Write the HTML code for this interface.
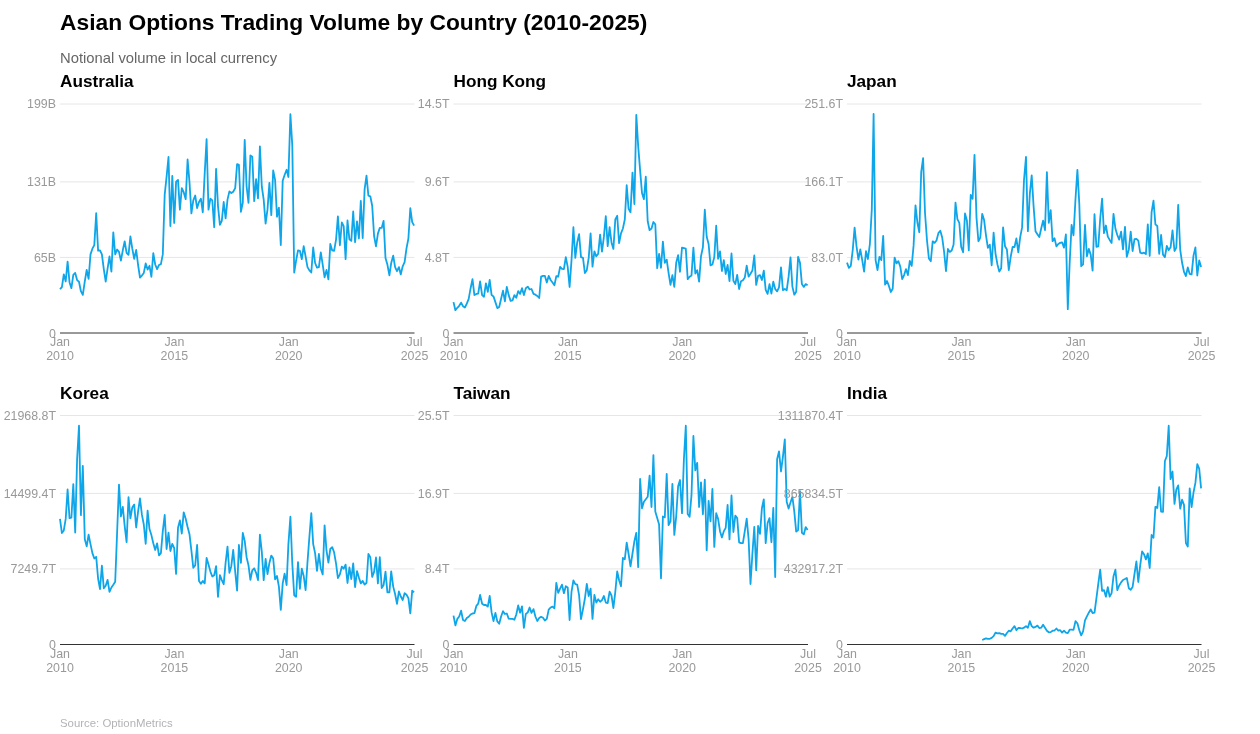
<!DOCTYPE html><html><head><meta charset="utf-8"><title>Asian Options Trading Volume</title><style>
html,body{margin:0;padding:0;background:#fff}body{width:1260px;height:734px;overflow:hidden;font-family:"Liberation Sans",sans-serif}
svg{display:block;will-change:transform;opacity:.999}text{font-family:"Liberation Sans",sans-serif}
.t{font-size:22.8px;font-weight:700;fill:#000}.s{font-size:14.8px;fill:#666}.p{font-size:17.2px;font-weight:700;fill:#000}
.a{font-size:12.4px;fill:#999}.g{stroke:#e6e6e6;stroke-width:1}.x{stroke:#333;stroke-width:1}.l{fill:none;stroke:#0ea5e9;stroke-width:1.8;stroke-linejoin:round;stroke-linecap:butt}
.src{font-size:11.4px;fill:#b3b3b3}
</style></head><body>
<svg width="1260" height="734" viewBox="0 0 1260 734">
<text class="t" x="60" y="30">Asian Options Trading Volume by Country (2010-2025)</text>
<text class="s" x="60" y="63">Notional volume in local currency</text>
<g><text class="p" x="60" y="87">Australia</text>
<line class="g" x1="60" x2="414.5" y1="104.0" y2="104.0"/>
<text class="a" text-anchor="end" x="56" y="108.3">199B</text>
<line class="g" x1="60" x2="414.5" y1="181.9" y2="181.9"/>
<text class="a" text-anchor="end" x="56" y="186.2">131B</text>
<line class="g" x1="60" x2="414.5" y1="257.4" y2="257.4"/>
<text class="a" text-anchor="end" x="56" y="261.7">65B</text>
<text class="a" text-anchor="end" x="56" y="337.5">0</text>
<path class="l" d="M60.0,289.2 L61.9,287.1 L63.8,274.3 L65.7,281.4 L67.6,261.7 L69.5,282.2 L71.4,288.2 L73.3,274.8 L75.2,272.9 L77.1,280.1 L79.0,281.7 L80.9,291.2 L82.8,294.9 L84.8,281.4 L86.7,269.9 L88.6,278.9 L90.5,254.4 L92.4,248.7 L94.3,245.1 L96.2,213.2 L98.1,250.6 L100.0,250.3 L101.9,254.4 L103.8,269.1 L105.7,281.7 L107.6,268.3 L109.5,256.5 L111.4,271.6 L113.3,232.3 L115.2,254.4 L117.1,249.5 L119.0,251.9 L120.9,260.6 L122.8,250.3 L124.7,241.3 L126.6,252.8 L128.5,254.9 L130.4,236.4 L132.3,248.7 L134.2,258.8 L136.2,250.0 L138.1,265.0 L140.0,277.6 L141.9,275.6 L143.8,272.9 L145.7,263.4 L147.6,269.6 L149.5,265.8 L151.4,276.8 L153.3,253.1 L155.2,264.5 L157.1,269.1 L159.0,265.0 L160.9,264.2 L162.8,254.4 L164.7,194.6 L166.6,176.7 L168.5,157.0 L170.4,226.0 L172.3,175.8 L174.2,222.9 L176.1,181.6 L178.0,179.9 L179.9,209.7 L181.8,188.1 L183.7,192.2 L185.7,199.2 L187.6,159.5 L189.5,182.4 L191.4,213.4 L193.3,200.4 L195.2,195.5 L197.1,208.1 L199.0,202.0 L200.9,198.7 L202.8,212.3 L204.7,173.4 L206.6,139.1 L208.5,209.7 L210.4,198.7 L212.3,200.4 L214.2,227.3 L216.1,168.8 L218.0,206.1 L219.9,224.9 L221.8,220.8 L223.7,202.0 L225.6,218.3 L227.5,199.6 L229.4,191.4 L231.3,193.0 L233.2,191.7 L235.2,188.1 L237.1,164.1 L238.9,164.9 L240.9,211.8 L242.8,202.8 L244.7,139.9 L246.6,186.5 L248.5,202.8 L250.4,155.4 L252.3,156.7 L254.2,201.2 L256.1,179.1 L258.0,198.4 L259.9,146.4 L261.8,186.5 L263.7,199.6 L265.6,223.7 L267.5,209.4 L269.4,182.9 L271.3,215.1 L273.2,170.4 L275.1,179.9 L277.0,216.7 L278.9,207.7 L280.8,245.0 L282.7,180.8 L284.6,175.0 L286.6,169.8 L288.4,177.0 L290.4,114.2 L292.3,145.6 L294.2,272.5 L296.1,260.6 L298.0,250.4 L299.9,250.8 L301.8,259.2 L303.7,246.2 L305.6,256.5 L307.5,267.1 L309.4,270.4 L311.3,272.5 L313.2,247.5 L315.1,263.0 L317.0,267.6 L318.9,267.1 L320.8,252.4 L322.7,264.6 L324.6,277.4 L326.5,269.9 L328.4,279.4 L330.3,243.9 L332.2,250.4 L334.1,250.8 L336.1,239.3 L337.9,216.4 L339.9,245.3 L341.8,222.5 L343.7,226.2 L345.6,259.2 L347.5,220.5 L349.4,239.3 L351.3,240.9 L353.2,211.5 L355.1,242.2 L357.0,221.3 L358.9,238.5 L360.8,200.9 L362.7,238.0 L364.6,189.4 L366.5,175.6 L368.4,195.7 L370.3,196.3 L372.2,205.8 L374.1,236.0 L376.0,246.3 L377.9,233.6 L379.8,227.9 L381.7,227.9 L383.6,220.8 L385.5,258.1 L387.4,264.6 L389.4,275.3 L391.2,263.0 L393.2,255.7 L395.1,267.1 L397.0,271.2 L398.9,267.1 L400.8,274.4 L402.7,266.3 L404.6,262.2 L406.5,248.3 L408.4,238.5 L410.3,208.2 L412.2,222.1 L414.1,225.7"/>
<line class="x" x1="60" x2="414.5" y1="333" y2="333"/>
<text class="a" text-anchor="middle" x="60.0" y="346.2">Jan</text><text class="a" text-anchor="middle" x="60.0" y="360">2010</text>
<text class="a" text-anchor="middle" x="174.4" y="346.2">Jan</text><text class="a" text-anchor="middle" x="174.4" y="360">2015</text>
<text class="a" text-anchor="middle" x="288.7" y="346.2">Jan</text><text class="a" text-anchor="middle" x="288.7" y="360">2020</text>
<text class="a" text-anchor="middle" x="414.5" y="346.2">Jul</text><text class="a" text-anchor="middle" x="414.5" y="360">2025</text>
</g>
<g><text class="p" x="453.5" y="87">Hong Kong</text>
<line class="g" x1="453.5" x2="808.0" y1="104.0" y2="104.0"/>
<text class="a" text-anchor="end" x="449.5" y="108.3">14.5T</text>
<line class="g" x1="453.5" x2="808.0" y1="181.9" y2="181.9"/>
<text class="a" text-anchor="end" x="449.5" y="186.2">9.6T</text>
<line class="g" x1="453.5" x2="808.0" y1="257.4" y2="257.4"/>
<text class="a" text-anchor="end" x="449.5" y="261.7">4.8T</text>
<text class="a" text-anchor="end" x="449.5" y="337.5">0</text>
<path class="l" d="M453.5,302.1 L455.4,310.2 L457.3,307.8 L459.2,305.8 L461.1,302.6 L463.0,306.2 L464.9,307.5 L466.8,303.7 L468.7,298.8 L470.6,288.2 L472.5,279.2 L474.4,295.1 L476.4,293.9 L478.2,293.6 L480.1,281.3 L482.1,295.1 L484.0,296.7 L485.9,283.3 L487.8,291.8 L489.7,280.0 L491.6,295.1 L493.5,296.4 L495.4,302.1 L497.3,308.1 L499.2,307.0 L501.1,298.8 L503.0,290.6 L504.9,301.3 L506.8,286.9 L508.7,295.1 L510.6,300.9 L512.5,300.4 L514.4,295.1 L516.3,297.7 L518.2,291.1 L520.1,293.9 L522.0,288.2 L523.9,295.1 L525.8,288.2 L527.8,286.6 L529.6,289.5 L531.5,289.0 L533.5,293.9 L535.4,294.7 L537.3,296.0 L539.2,298.0 L541.1,276.7 L543.0,275.9 L544.9,275.9 L546.8,282.5 L548.7,275.9 L550.6,280.0 L552.5,282.5 L554.4,285.2 L556.3,276.2 L558.2,276.7 L560.1,266.9 L562.0,268.9 L563.9,269.1 L565.8,257.1 L567.7,266.9 L569.6,287.0 L571.5,260.4 L573.4,227.2 L575.3,257.9 L577.2,242.4 L579.1,234.2 L581.0,257.1 L583.0,257.9 L584.9,273.1 L586.8,270.2 L588.7,257.9 L590.6,233.4 L592.5,266.6 L594.4,251.4 L596.3,256.3 L598.2,253.8 L600.1,234.7 L602.0,251.7 L603.9,236.7 L605.8,216.2 L607.7,246.2 L609.6,227.2 L611.5,242.4 L613.4,248.9 L615.3,219.5 L617.2,215.8 L619.1,243.2 L621.0,233.4 L622.9,228.5 L624.8,219.5 L626.7,185.2 L628.6,208.9 L630.5,212.2 L632.5,172.6 L634.4,204.0 L636.3,114.9 L638.2,146.4 L640.1,170.1 L642.0,193.0 L643.9,199.2 L645.8,176.7 L647.7,221.2 L649.6,230.2 L651.5,228.5 L653.4,222.0 L655.3,224.4 L657.2,268.2 L659.1,253.8 L661.0,267.8 L662.9,241.6 L664.8,262.8 L666.7,259.6 L668.6,273.1 L670.5,284.9 L672.4,275.1 L674.3,286.9 L676.2,262.8 L678.1,255.2 L680.0,271.8 L682.0,247.6 L683.9,248.1 L685.8,248.6 L687.7,279.2 L689.6,276.7 L691.5,275.4 L693.4,247.6 L695.3,273.5 L697.2,270.2 L699.1,281.6 L701.0,256.3 L702.9,247.3 L704.8,209.7 L706.7,236.7 L708.6,244.0 L710.5,265.3 L712.4,264.5 L714.3,257.1 L716.2,225.7 L718.1,258.8 L720.0,251.4 L721.9,271.0 L723.8,260.1 L725.7,274.0 L727.6,265.0 L729.5,281.1 L731.5,253.5 L733.4,280.8 L735.3,284.1 L737.2,274.8 L739.1,289.0 L741.0,281.3 L742.9,280.3 L744.8,277.6 L746.7,265.6 L748.6,276.7 L750.5,273.8 L752.4,270.5 L754.3,255.5 L756.2,284.9 L758.1,275.9 L760.0,275.1 L761.9,280.0 L763.8,270.7 L765.7,289.8 L767.6,293.9 L769.5,284.1 L771.4,293.6 L773.3,281.6 L775.2,289.0 L777.1,291.4 L779.0,287.4 L781.0,267.3 L782.9,290.1 L784.8,289.0 L786.7,290.3 L788.6,276.7 L790.5,257.4 L792.4,286.6 L794.3,294.7 L796.2,291.8 L798.1,256.8 L800.0,262.8 L801.9,284.1 L803.8,286.9 L805.7,284.1 L807.6,285.2"/>
<line class="x" x1="453.5" x2="808.0" y1="333" y2="333"/>
<text class="a" text-anchor="middle" x="453.5" y="346.2">Jan</text><text class="a" text-anchor="middle" x="453.5" y="360">2010</text>
<text class="a" text-anchor="middle" x="567.9" y="346.2">Jan</text><text class="a" text-anchor="middle" x="567.9" y="360">2015</text>
<text class="a" text-anchor="middle" x="682.2" y="346.2">Jan</text><text class="a" text-anchor="middle" x="682.2" y="360">2020</text>
<text class="a" text-anchor="middle" x="808.0" y="346.2">Jul</text><text class="a" text-anchor="middle" x="808.0" y="360">2025</text>
</g>
<g><text class="p" x="847" y="87">Japan</text>
<line class="g" x1="847" x2="1201.5" y1="104.0" y2="104.0"/>
<text class="a" text-anchor="end" x="843" y="108.3">251.6T</text>
<line class="g" x1="847" x2="1201.5" y1="181.9" y2="181.9"/>
<text class="a" text-anchor="end" x="843" y="186.2">166.1T</text>
<line class="g" x1="847" x2="1201.5" y1="257.4" y2="257.4"/>
<text class="a" text-anchor="end" x="843" y="261.7">83.0T</text>
<text class="a" text-anchor="end" x="843" y="337.5">0</text>
<path class="l" d="M847.0,262.6 L848.9,267.9 L850.8,265.8 L852.7,250.3 L854.6,227.7 L856.5,246.2 L858.4,259.6 L860.3,249.5 L862.2,259.8 L864.1,271.6 L866.0,251.1 L867.9,259.0 L869.9,243.8 L871.8,209.4 L873.6,114.0 L875.6,260.1 L877.5,270.2 L879.4,256.8 L881.3,260.1 L883.2,235.9 L885.1,284.6 L887.0,281.0 L888.9,285.9 L890.8,292.0 L892.7,288.7 L894.6,257.6 L896.5,263.4 L898.4,261.2 L900.3,266.6 L902.2,279.2 L904.1,275.1 L906.0,269.1 L907.9,275.1 L909.8,260.9 L911.7,265.8 L913.6,245.4 L915.5,205.3 L917.4,222.5 L919.3,232.3 L921.2,172.0 L923.1,158.1 L925.0,212.7 L927.0,240.5 L928.9,258.5 L930.8,261.2 L932.7,241.3 L934.6,242.9 L936.5,240.5 L938.4,233.1 L940.3,230.7 L942.2,237.5 L944.1,251.9 L946.0,271.1 L947.9,249.0 L949.8,251.9 L951.7,250.6 L953.6,244.6 L955.5,202.6 L957.4,219.2 L959.3,222.8 L961.2,247.0 L963.1,252.3 L965.0,213.5 L966.9,220.5 L968.8,250.3 L970.7,195.0 L972.6,198.8 L974.5,154.9 L976.5,217.6 L978.4,241.3 L980.3,237.5 L982.2,213.8 L984.1,220.1 L986.0,235.3 L987.9,247.8 L989.8,244.6 L991.7,265.3 L993.6,232.6 L995.5,253.6 L997.4,264.2 L999.3,271.6 L1001.2,268.3 L1003.1,227.4 L1005.0,246.2 L1006.9,249.5 L1008.8,270.2 L1010.7,256.8 L1012.6,247.0 L1014.5,247.0 L1016.4,238.5 L1018.3,252.3 L1020.2,237.2 L1022.1,227.4 L1024.0,180.0 L1026.0,156.9 L1027.9,231.2 L1029.8,194.1 L1031.7,175.3 L1033.6,206.4 L1035.5,231.2 L1037.4,234.2 L1039.3,237.1 L1041.2,228.5 L1043.1,220.6 L1045.0,230.1 L1046.9,172.1 L1048.8,222.8 L1050.7,210.2 L1052.6,241.2 L1054.5,238.3 L1056.4,246.4 L1058.3,244.0 L1060.2,242.9 L1062.1,242.4 L1064.0,247.6 L1065.9,234.5 L1067.8,309.2 L1069.7,262.1 L1071.6,224.9 L1073.5,235.3 L1075.5,199.0 L1077.4,169.9 L1079.3,203.9 L1081.2,266.1 L1083.1,264.4 L1085.0,224.9 L1086.9,256.3 L1088.8,248.9 L1090.7,254.6 L1092.6,270.6 L1094.5,214.2 L1096.4,246.8 L1098.3,246.4 L1100.2,218.7 L1102.1,198.7 L1104.0,233.1 L1105.9,225.5 L1107.8,236.6 L1109.7,239.9 L1111.6,242.9 L1113.5,213.8 L1115.4,228.5 L1117.3,235.0 L1119.2,239.6 L1121.1,231.7 L1123.0,249.4 L1125.0,226.8 L1126.8,256.8 L1128.8,249.7 L1130.7,231.7 L1132.6,251.0 L1134.5,239.1 L1136.4,238.8 L1138.3,240.7 L1140.2,252.7 L1142.1,253.3 L1144.0,252.7 L1145.9,254.1 L1147.8,224.4 L1149.7,255.9 L1151.6,212.1 L1153.5,200.7 L1155.4,224.4 L1157.3,226.0 L1159.2,253.8 L1161.1,235.0 L1163.0,254.6 L1164.9,257.1 L1166.8,246.0 L1168.7,250.1 L1170.6,247.3 L1172.5,230.4 L1174.5,251.0 L1176.3,247.6 L1178.2,204.8 L1180.2,249.7 L1182.1,262.8 L1184.0,271.9 L1185.9,276.0 L1187.8,267.4 L1189.7,273.9 L1191.6,274.4 L1193.5,255.6 L1195.4,247.4 L1197.3,275.5 L1199.2,260.5 L1201.1,267.0"/>
<line class="x" x1="847" x2="1201.5" y1="333" y2="333"/>
<text class="a" text-anchor="middle" x="847.0" y="346.2">Jan</text><text class="a" text-anchor="middle" x="847.0" y="360">2010</text>
<text class="a" text-anchor="middle" x="961.4" y="346.2">Jan</text><text class="a" text-anchor="middle" x="961.4" y="360">2015</text>
<text class="a" text-anchor="middle" x="1075.7" y="346.2">Jan</text><text class="a" text-anchor="middle" x="1075.7" y="360">2020</text>
<text class="a" text-anchor="middle" x="1201.5" y="346.2">Jul</text><text class="a" text-anchor="middle" x="1201.5" y="360">2025</text>
</g>
<g><text class="p" x="60" y="398.5">Korea</text>
<line class="g" x1="60" x2="414.5" y1="415.5" y2="415.5"/>
<text class="a" text-anchor="end" x="56" y="419.8">21968.8T</text>
<line class="g" x1="60" x2="414.5" y1="493.4" y2="493.4"/>
<text class="a" text-anchor="end" x="56" y="497.7">14499.4T</text>
<line class="g" x1="60" x2="414.5" y1="568.9" y2="568.9"/>
<text class="a" text-anchor="end" x="56" y="573.2">7249.7T</text>
<text class="a" text-anchor="end" x="56" y="649.0">0</text>
<path class="l" d="M60.0,518.9 L61.9,533.1 L63.8,530.4 L65.7,518.9 L67.6,489.5 L69.5,518.1 L71.4,517.6 L73.3,484.1 L75.2,532.5 L77.1,459.2 L79.0,425.7 L80.9,515.1 L82.8,465.8 L84.8,539.2 L86.7,546.3 L88.6,534.7 L90.5,544.1 L92.4,553.1 L94.3,558.5 L96.2,556.9 L98.1,578.5 L100.0,589.1 L101.9,565.7 L103.8,588.3 L105.7,585.8 L107.6,579.8 L109.5,591.9 L111.4,587.5 L113.3,584.7 L115.2,581.7 L117.1,532.7 L119.0,484.6 L120.9,516.4 L122.8,506.9 L124.7,526.2 L126.6,542.2 L128.5,497.2 L130.4,518.3 L132.3,507.4 L134.2,504.6 L136.2,527.5 L138.1,511.4 L140.0,498.5 L141.9,514.7 L143.8,524.5 L145.7,543.8 L147.6,510.6 L149.5,529.1 L151.4,535.1 L153.3,543.3 L155.2,549.9 L157.1,543.3 L159.0,555.3 L160.9,553.1 L162.8,531.1 L164.7,515.0 L166.6,549.0 L168.5,532.7 L170.4,551.0 L172.3,543.8 L174.2,548.2 L176.1,573.9 L178.0,527.8 L179.9,520.4 L181.8,533.5 L183.7,512.3 L185.7,518.8 L187.6,527.0 L189.5,534.3 L191.4,550.7 L193.3,567.8 L195.2,565.4 L197.1,545.0 L199.0,580.9 L200.9,583.7 L202.8,580.9 L204.7,583.4 L206.6,558.0 L208.5,564.6 L210.4,571.6 L212.3,576.5 L214.2,575.2 L216.1,566.2 L218.0,596.8 L219.9,575.2 L221.8,580.1 L223.7,584.2 L225.6,562.9 L227.5,546.6 L229.4,572.8 L231.3,566.2 L233.2,549.9 L235.2,571.9 L237.1,590.7 L238.9,545.0 L240.9,562.9 L242.8,533.0 L244.7,540.9 L246.6,557.2 L248.5,565.4 L250.4,579.8 L252.3,570.3 L254.2,568.3 L256.1,572.8 L258.0,580.1 L259.9,534.7 L261.8,551.5 L263.7,580.1 L265.6,558.9 L267.5,574.1 L269.4,562.9 L271.3,555.6 L273.2,558.5 L275.1,579.3 L277.0,576.0 L278.9,586.6 L280.8,609.9 L282.7,583.4 L284.6,573.6 L286.6,585.0 L288.4,544.1 L290.4,516.7 L292.3,563.8 L294.2,595.3 L296.1,596.8 L298.0,562.1 L299.9,588.8 L301.8,568.7 L303.7,576.0 L305.6,590.2 L307.5,562.1 L309.4,536.8 L311.3,513.1 L313.2,544.1 L315.1,553.1 L317.0,570.8 L318.9,554.0 L320.8,568.7 L322.7,574.4 L324.6,525.3 L326.5,550.7 L328.4,562.5 L330.3,549.0 L332.2,547.1 L334.1,552.3 L336.1,563.8 L337.9,578.1 L339.9,574.4 L341.8,566.7 L343.7,568.7 L345.6,564.6 L347.5,583.0 L349.4,567.5 L351.3,579.0 L353.2,563.4 L355.1,587.1 L357.0,571.1 L358.9,577.6 L360.8,583.4 L362.7,580.9 L364.6,584.5 L366.5,583.0 L368.4,554.0 L370.3,557.2 L372.2,576.8 L374.1,571.9 L376.0,557.5 L377.9,583.4 L379.8,557.2 L381.7,588.0 L383.6,585.0 L385.5,571.6 L387.4,592.4 L389.4,592.4 L391.2,571.4 L393.2,586.6 L395.1,594.0 L397.0,603.8 L398.9,591.5 L400.8,596.5 L402.7,600.0 L404.6,593.2 L406.5,594.8 L408.4,598.1 L410.3,613.3 L412.2,590.7 L414.1,592.4"/>
<line class="x" x1="60" x2="414.5" y1="644.5" y2="644.5"/>
<text class="a" text-anchor="middle" x="60.0" y="657.7">Jan</text><text class="a" text-anchor="middle" x="60.0" y="671.5">2010</text>
<text class="a" text-anchor="middle" x="174.4" y="657.7">Jan</text><text class="a" text-anchor="middle" x="174.4" y="671.5">2015</text>
<text class="a" text-anchor="middle" x="288.7" y="657.7">Jan</text><text class="a" text-anchor="middle" x="288.7" y="671.5">2020</text>
<text class="a" text-anchor="middle" x="414.5" y="657.7">Jul</text><text class="a" text-anchor="middle" x="414.5" y="671.5">2025</text>
</g>
<g><text class="p" x="453.5" y="398.5">Taiwan</text>
<line class="g" x1="453.5" x2="808.0" y1="415.5" y2="415.5"/>
<text class="a" text-anchor="end" x="449.5" y="419.8">25.5T</text>
<line class="g" x1="453.5" x2="808.0" y1="493.4" y2="493.4"/>
<text class="a" text-anchor="end" x="449.5" y="497.7">16.9T</text>
<line class="g" x1="453.5" x2="808.0" y1="568.9" y2="568.9"/>
<text class="a" text-anchor="end" x="449.5" y="573.2">8.4T</text>
<text class="a" text-anchor="end" x="449.5" y="649.0">0</text>
<path class="l" d="M453.5,615.6 L455.4,625.4 L457.3,618.9 L459.2,616.5 L461.1,610.7 L463.0,620.0 L464.9,621.0 L466.8,618.1 L468.7,616.8 L470.6,614.5 L472.5,613.5 L474.4,613.2 L476.4,605.8 L478.2,603.7 L480.1,594.9 L482.1,603.7 L484.0,605.0 L485.9,605.0 L487.8,606.6 L489.7,596.0 L491.6,612.4 L493.5,621.0 L495.4,612.9 L497.3,621.4 L499.2,623.8 L501.1,616.5 L503.0,611.2 L504.9,614.0 L506.8,613.5 L508.7,618.6 L510.6,618.9 L512.5,618.9 L514.4,619.7 L516.3,614.5 L518.2,605.5 L520.1,612.7 L522.0,606.3 L523.9,627.9 L525.8,614.0 L527.8,612.4 L529.6,607.5 L531.5,612.9 L533.5,609.1 L535.4,616.5 L537.3,621.0 L539.2,618.1 L541.1,616.8 L543.0,617.8 L544.9,620.5 L546.8,618.9 L548.7,609.6 L550.6,607.5 L552.5,606.6 L554.4,608.3 L556.3,582.9 L558.2,592.8 L560.1,588.7 L562.0,584.6 L563.9,593.2 L565.8,586.2 L567.7,587.4 L569.6,620.0 L571.5,591.9 L573.4,580.5 L575.3,584.1 L577.2,584.6 L579.1,595.2 L581.0,619.2 L583.0,609.1 L584.9,598.5 L586.8,583.8 L588.7,596.0 L590.6,588.7 L592.5,618.9 L594.4,594.9 L596.3,602.6 L598.2,599.3 L600.1,601.7 L602.0,600.1 L603.9,596.0 L605.8,602.6 L607.7,603.0 L609.6,591.6 L611.5,595.5 L613.4,608.0 L615.3,591.9 L617.2,571.5 L619.1,580.2 L621.0,586.2 L622.9,557.9 L624.8,559.2 L626.7,542.6 L628.6,554.0 L630.5,566.3 L632.5,553.5 L634.4,541.2 L636.3,532.8 L638.2,567.1 L640.1,478.9 L642.0,508.3 L643.9,501.7 L645.8,499.3 L647.7,496.8 L649.6,475.6 L651.5,507.0 L653.4,455.1 L655.3,511.6 L657.2,518.1 L659.1,524.6 L661.0,578.3 L662.9,516.5 L664.8,517.3 L666.7,473.9 L668.6,525.1 L670.5,521.4 L672.4,483.8 L674.3,534.9 L676.2,516.5 L678.1,486.2 L680.0,480.0 L682.0,513.2 L683.9,459.2 L685.8,425.7 L687.7,514.0 L689.6,516.8 L691.5,495.2 L693.4,436.0 L695.3,470.4 L697.2,462.8 L699.1,507.0 L701.0,482.4 L702.9,514.3 L704.8,479.7 L706.7,550.2 L708.6,500.9 L710.5,521.4 L712.4,489.0 L714.3,546.9 L716.2,513.2 L718.1,518.9 L720.0,531.2 L721.9,537.4 L723.8,531.2 L725.7,527.9 L727.6,505.0 L729.5,539.4 L731.5,495.5 L733.4,532.0 L735.3,515.6 L737.2,518.1 L739.1,542.3 L741.0,543.1 L742.9,543.1 L744.8,531.2 L746.7,518.6 L748.6,539.0 L750.5,584.0 L752.4,553.8 L754.3,526.8 L756.2,570.1 L758.1,525.9 L760.0,533.9 L761.9,508.3 L763.8,499.3 L765.7,543.1 L767.6,523.0 L769.5,518.1 L771.4,542.3 L773.3,507.8 L775.2,577.1 L777.1,459.2 L779.0,451.4 L781.0,471.5 L782.9,456.8 L784.8,439.3 L786.7,501.7 L788.6,508.6 L790.5,502.6 L792.4,496.8 L794.3,511.6 L796.2,531.7 L798.1,530.0 L800.0,491.1 L801.9,532.8 L803.8,534.4 L805.7,527.1 L807.6,529.9"/>
<line class="x" x1="453.5" x2="808.0" y1="644.5" y2="644.5"/>
<text class="a" text-anchor="middle" x="453.5" y="657.7">Jan</text><text class="a" text-anchor="middle" x="453.5" y="671.5">2010</text>
<text class="a" text-anchor="middle" x="567.9" y="657.7">Jan</text><text class="a" text-anchor="middle" x="567.9" y="671.5">2015</text>
<text class="a" text-anchor="middle" x="682.2" y="657.7">Jan</text><text class="a" text-anchor="middle" x="682.2" y="671.5">2020</text>
<text class="a" text-anchor="middle" x="808.0" y="657.7">Jul</text><text class="a" text-anchor="middle" x="808.0" y="671.5">2025</text>
</g>
<g><text class="p" x="847" y="398.5">India</text>
<line class="g" x1="847" x2="1201.5" y1="415.5" y2="415.5"/>
<text class="a" text-anchor="end" x="843" y="419.8">1311870.4T</text>
<line class="g" x1="847" x2="1201.5" y1="493.4" y2="493.4"/>
<text class="a" text-anchor="end" x="843" y="497.7">865834.5T</text>
<line class="g" x1="847" x2="1201.5" y1="568.9" y2="568.9"/>
<text class="a" text-anchor="end" x="843" y="573.2">432917.2T</text>
<text class="a" text-anchor="end" x="843" y="649.0">0</text>
<path class="l" d="M982.2,640.0 L984.1,639.2 L986.0,638.4 L987.9,638.8 L989.8,638.8 L991.7,637.9 L993.6,636.2 L995.5,632.6 L997.4,633.4 L999.3,633.1 L1001.2,633.9 L1003.1,633.9 L1005.0,635.9 L1006.9,633.0 L1008.8,630.7 L1010.7,631.3 L1012.6,628.5 L1014.5,626.1 L1016.4,630.2 L1018.3,628.0 L1020.2,628.0 L1022.1,628.5 L1024.0,627.7 L1026.0,626.1 L1027.9,627.7 L1029.8,621.2 L1031.7,626.1 L1033.6,627.7 L1035.5,626.9 L1037.4,625.6 L1039.3,628.0 L1041.2,627.7 L1043.1,624.8 L1045.0,627.7 L1046.9,630.7 L1048.8,632.3 L1050.7,632.1 L1052.6,630.7 L1054.5,630.5 L1056.4,628.5 L1058.3,630.7 L1060.2,630.2 L1062.1,632.6 L1064.0,630.7 L1065.9,632.6 L1067.8,633.1 L1069.7,629.7 L1071.6,629.7 L1073.5,629.9 L1075.5,621.2 L1077.4,623.3 L1079.3,630.2 L1081.2,635.4 L1083.1,631.3 L1085.0,620.4 L1086.9,616.3 L1088.8,612.7 L1090.7,609.4 L1092.6,613.0 L1094.5,612.7 L1096.4,598.3 L1098.3,583.6 L1100.2,569.7 L1102.1,590.9 L1104.0,590.1 L1105.9,596.7 L1107.8,587.2 L1109.7,596.7 L1111.6,593.1 L1113.5,576.2 L1115.4,569.7 L1117.3,590.1 L1119.2,585.5 L1121.1,582.4 L1123.0,580.0 L1125.0,579.0 L1126.8,577.9 L1128.8,588.2 L1130.7,589.8 L1132.6,586.9 L1134.5,573.8 L1136.4,561.5 L1138.3,582.0 L1140.2,565.3 L1142.1,551.4 L1144.0,554.2 L1145.9,559.4 L1147.8,553.3 L1149.7,568.0 L1151.6,534.9 L1153.5,537.8 L1155.4,506.8 L1157.3,508.1 L1159.2,487.1 L1161.1,511.6 L1163.0,511.9 L1164.9,461.0 L1166.8,456.2 L1168.7,425.7 L1170.6,479.1 L1172.5,471.5 L1174.5,503.9 L1176.3,489.6 L1178.2,485.4 L1180.2,508.7 L1182.1,499.7 L1184.0,504.9 L1185.9,543.0 L1187.8,546.5 L1189.7,488.3 L1191.6,507.2 L1193.5,492.5 L1195.4,482.9 L1197.3,464.2 L1199.2,468.6 L1201.1,488.3"/>
<line class="x" x1="847" x2="1201.5" y1="644.5" y2="644.5"/>
<text class="a" text-anchor="middle" x="847.0" y="657.7">Jan</text><text class="a" text-anchor="middle" x="847.0" y="671.5">2010</text>
<text class="a" text-anchor="middle" x="961.4" y="657.7">Jan</text><text class="a" text-anchor="middle" x="961.4" y="671.5">2015</text>
<text class="a" text-anchor="middle" x="1075.7" y="657.7">Jan</text><text class="a" text-anchor="middle" x="1075.7" y="671.5">2020</text>
<text class="a" text-anchor="middle" x="1201.5" y="657.7">Jul</text><text class="a" text-anchor="middle" x="1201.5" y="671.5">2025</text>
</g>
<text class="src" x="60" y="726.6">Source: OptionMetrics</text>
</svg></body></html>
